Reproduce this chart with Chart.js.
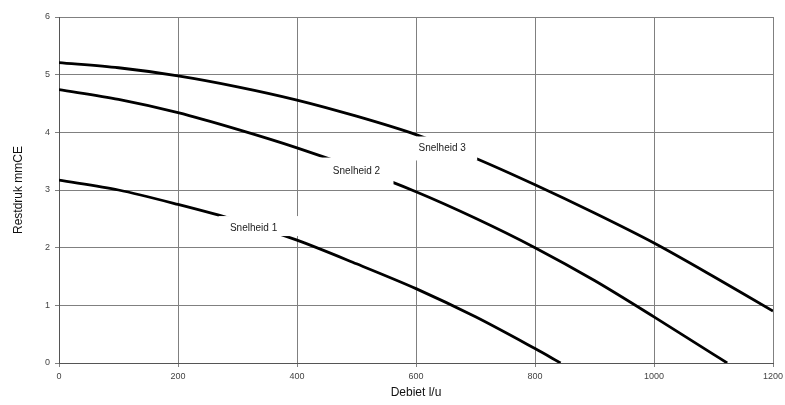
<!DOCTYPE html>
<html>
<head>
<meta charset="utf-8">
<script src="https://cdn.jsdelivr.net/npm/chart.js@4"></script>
<style>
  html, body { margin: 0; padding: 0; background: #ffffff; }
  #wrap { width: 785px; height: 405px; }
</style>
</head>
<body>
<div id="wrap"><canvas id="c" width="785" height="405"></canvas></div>
<script>
// Pump curves: remaining pressure (mmCE) against flow (l/u) per fan speed
const debiet1 = [0, 100, 200, 300, 400, 500, 600, 700, 800, 843];
const druk1   = [3.17, 3.00, 2.75, 2.47, 2.13, 1.72, 1.29, 0.80, 0.25, 0];

const debiet2 = [0, 100, 200, 300, 400, 500, 600, 700, 800, 900, 1000, 1100, 1123];
const druk2   = [4.74, 4.57, 4.34, 4.05, 3.73, 3.37, 2.97, 2.51, 2.00, 1.43, 0.80, 0.15, 0];

const debiet3 = [0, 100, 200, 300, 400, 500, 600, 700, 800, 900, 1000, 1100, 1200];
const druk3   = [5.21, 5.12, 4.98, 4.79, 4.56, 4.28, 3.96, 3.55, 3.09, 2.60, 2.08, 1.50, 0.90];

const seriesNames = ['Snelheid 1', 'Snelheid 2', 'Snelheid 3'];
// anchor of each curve label, in data units (debiet, druk)
const labelDebiet = [327, 500, 644];
const labelDruk   = [2.34, 3.32, 3.72];

const xTicks = [0, 200, 400, 600, 800, 1000, 1200];
const yTicks = [0, 1, 2, 3, 4, 5, 6];

const toPoints = (xs, ys) => xs.map((x, i) => ({ x: x, y: ys[i] }));

// white label boxes drawn over the curves, with the speed name inside
const boxes = [
  { l: -35, r: 47, t: -12, b: 8 },
  { l: -37, r: 37, t: -14, b: 13 },
  { l: -30, r: 35, t: -12, b: 12 }
];
const curveLabels = {
  id: 'curveLabels',
  afterDatasetsDraw(chart) {
    const { ctx, scales } = chart;
    ctx.save();
    seriesNames.forEach((name, i) => {
      const cx = scales.x.getPixelForValue(labelDebiet[i]);
      const cy = scales.y.getPixelForValue(labelDruk[i]);
      const b = boxes[i];
      ctx.fillStyle = '#ffffff';
      ctx.fillRect(cx + b.l, cy + b.t, b.r - b.l, b.b - b.t);
      ctx.fillStyle = '#222222';
      ctx.font = '10px "Liberation Sans", Arial, sans-serif';
      ctx.textAlign = 'center';
      ctx.textBaseline = 'middle';
      ctx.fillText(name, cx, cy);
    });
    ctx.restore();
  }
};

const lineStyle = {
  borderColor: '#000000',
  borderWidth: 2.8,
  pointRadius: 0,
  fill: false,
  tension: 0.3
};

const tickFont = { family: '"Liberation Sans", Arial, sans-serif', size: 9 };
const titleFont = { family: '"Liberation Sans", Arial, sans-serif', size: 12 };

new Chart(document.getElementById('c'), {
  type: 'line',
  data: {
    datasets: [
      Object.assign({ label: seriesNames[0], data: toPoints(debiet1, druk1) }, lineStyle),
      Object.assign({ label: seriesNames[1], data: toPoints(debiet2, druk2) }, lineStyle),
      Object.assign({ label: seriesNames[2], data: toPoints(debiet3, druk3) }, lineStyle)
    ]
  },
  options: {
    responsive: false,
    animation: false,
    devicePixelRatio: 1,
    layout: { padding: { left: 0, right: 12, top: 17, bottom: 0 } },
    plugins: {
      legend: { display: false },
      tooltip: { enabled: false }
    },
    scales: {
      x: {
        type: 'linear',
        min: 0,
        max: 1200,
        afterBuildTicks: (s) => { s.ticks = xTicks.map(v => ({ value: v })); },
        afterFit: (s) => { s.height = 42; s.paddingRight = 0; s.paddingLeft = 0; },
        grid: { color: '#808080', lineWidth: 1, tickLength: 4, drawTicks: true },
        border: { color: '#555555', width: 1 },
        ticks: {
          color: '#444444',
          padding: 4,
          font: tickFont,
          callback: (v) => String(v)
        },
        title: {
          display: true,
          text: 'Debiet l/u',
          color: '#111111',
          padding: { top: 2, bottom: 5 },
          font: titleFont
        }
      },
      y: {
        type: 'linear',
        min: 0,
        max: 6,
        afterBuildTicks: (s) => { s.ticks = yTicks.map(v => ({ value: v })); },
        afterFit: (s) => { s.width = 59; },
        grid: { color: '#808080', lineWidth: 1, tickLength: 4, drawTicks: true },
        border: { color: '#555555', width: 1 },
        ticks: {
          color: '#444444',
          padding: 5,
          font: tickFont,
          callback: (v) => String(v)
        },
        title: {
          display: true,
          text: 'Restdruk mmCE',
          color: '#111111',
          padding: { top: 11, bottom: 8 },
          font: titleFont
        }
      }
    }
  },
  plugins: [curveLabels]
});
</script>
</body>
</html>
